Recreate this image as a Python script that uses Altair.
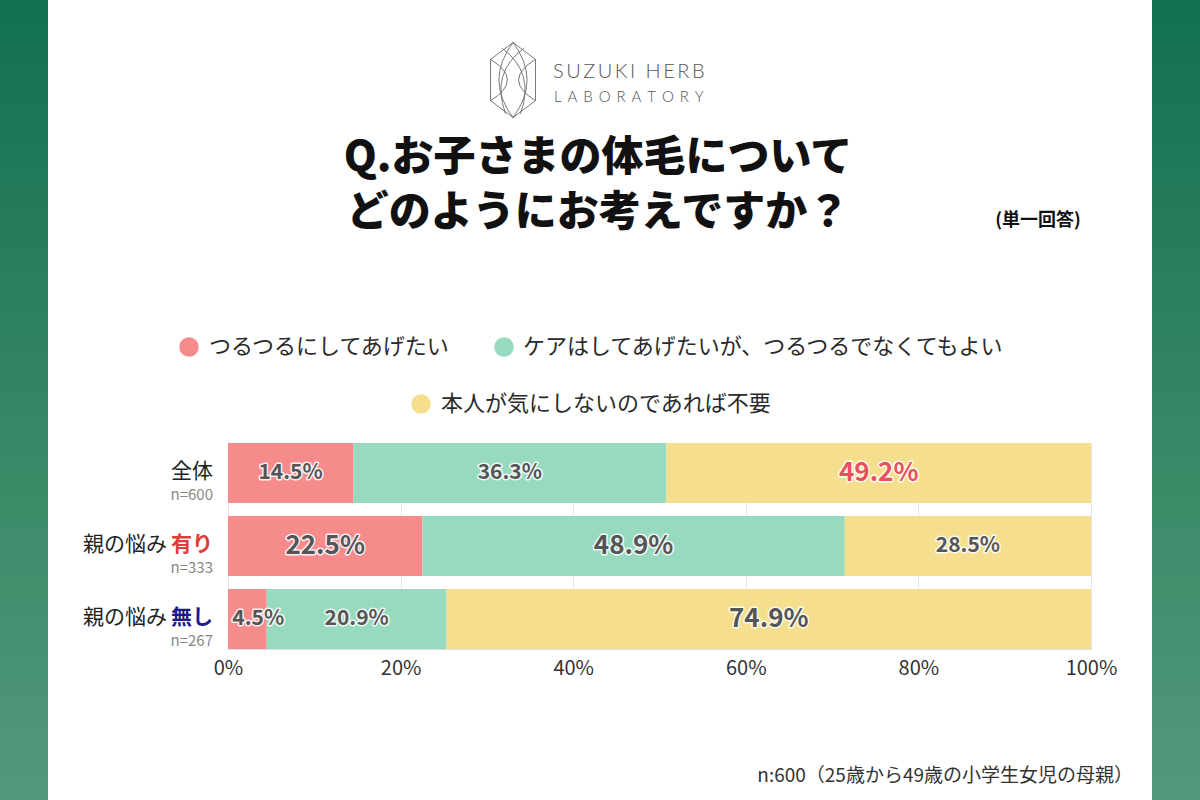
import altair as alt
import pandas as pd

# ---------------- data ----------------
CATS = ["つるつるにしてあげたい", "ケアはしてあげたいが、つるつるでなくてもよい", "本人が気にしないのであれば不要"]
GROUPS = ["全体", "親の悩み 有り", "親の悩み 無し"]
PREFIX = ["全体", "親の悩み", "親の悩み"]
SUFFIX = ["", "有り", "無し"]
NLABEL = ["n=600", "n=333", "n=267"]
V_SMOOTH = [14.5, 22.5, 4.5]
V_CARE = [36.3, 48.9, 20.9]
V_NONE = [49.2, 28.5, 74.9]
TICKS = [0, 0.2, 0.4, 0.6, 0.8, 1.0]
TITLE_LINES = ["Q.お子さまの体毛について", "どのようにお考えですか？"]
TITLE_NOTE = ["(単一回答)"]
FOOTNOTE = ["n:600（25歳から49歳の小学生女児の母親）"]
LOGO_LINES = ["SUZUKI HERB", "LABORATORY"]

COLORS = ["#F68B8C", "#98DABF", "#F5DF8E"]
FONT = "Noto Sans CJK JP"

rows = []
for gi, g in enumerate(GROUPS):
    for ci, vals in enumerate([V_SMOOTH, V_CARE, V_NONE]):
        rows.append({"group": g, "cat": CATS[ci], "order": ci, "value": vals[gi]})
df = pd.DataFrame(rows)
labels_df = pd.DataFrame({"group": GROUPS, "prefix": PREFIX, "suffix": SUFFIX, "n": NLABEL})

# pixel offsets of plot area inside 1200x800 canvas
PL, PT, PW, PH = 228, 443, 863, 206

ysc = alt.Scale(domain=GROUPS, paddingInner=0.18, paddingOuter=0)
xsc = alt.Scale(domain=[0, 1])


def Y():
    return alt.Y("group:N", sort=GROUPS, scale=ysc, axis=None)


bars = alt.Chart(df).mark_bar().encode(
    y=Y(),
    x=alt.X("value:Q", stack="normalize", scale=xsc,
            axis=alt.Axis(format=".0%", values=TICKS, grid=True, gridColor="#e6e6e6",
                          domain=False, ticks=False, labelFontSize=20, labelColor="#333333",
                          labelPadding=9, labelFlush=False, title=None, labelFont=FONT)),
    color=alt.Color("cat:N", sort=CATS, scale=alt.Scale(domain=CATS, range=COLORS), legend=None),
    order=alt.Order("order:Q"),
)

lab_base = alt.Chart(df).transform_calculate(
    base="datum.group == '全体' ? datum.value : 0"
).transform_joinaggregate(
    ref="max(base)", groupby=["cat"]
).transform_joinaggregate(
    total="sum(value)", maxv="max(value)", groupby=["group"]
).transform_window(
    cum="sum(value)", sort=[alt.SortField("order")], groupby=["group"], frame=[None, 0]
).transform_calculate(
    mid="max((datum.cum - datum.value/2)/datum.total, 0.035)",
    lab="format(datum.value, '.1f') + '%'",
    big="datum.group == '全体' ? datum.value == datum.maxv : datum.value > datum.ref"
)
size_enc = alt.condition("datum.big", alt.value(26), alt.value(21))
halo = lab_base.mark_text(font=FONT, fontWeight="bold", stroke="white", strokeWidth=3,
                          strokeJoin="round", strokeOpacity=0.85, fill="white").encode(
    y=Y(), x=alt.X("mid:Q", scale=xsc, title=None), text="lab:N", size=size_enc)
labels = lab_base.mark_text(font=FONT, fontWeight="bold").encode(
    y=Y(), x=alt.X("mid:Q", scale=xsc, title=None), text="lab:N", size=size_enc,
    color=alt.condition("datum.value == datum.maxv && datum.group == '全体'",
                        alt.value("#E8515B"), alt.value("#555555")))

# y labels
ylab_base = alt.Chart(labels_df)
ylab_a = ylab_base.transform_filter("datum.suffix == ''").mark_text(
    font=FONT, fontSize=21, align="right", baseline="middle", color="#222222", dy=-1).encode(
    y=Y(), x=alt.value(-15), text="prefix:N")
ylab_b = ylab_base.transform_filter("datum.suffix != ''").mark_text(
    font=FONT, fontSize=21, align="right", baseline="middle", color="#222222", dy=-1).encode(
    y=Y(), x=alt.value(-61), text="prefix:N")
ylab_c = ylab_base.transform_filter("datum.suffix != ''").mark_text(
    font=FONT, fontSize=21, fontWeight="bold", align="right", baseline="middle", dy=-1).encode(
    y=Y(), x=alt.value(-15), text="suffix:N",
    color=alt.condition("datum.suffix == '有り'", alt.value("#E23B3B"), alt.value("#1F1A8A")))
ylab_n = ylab_base.mark_text(font=FONT, fontSize=15, align="right", baseline="middle",
                             color="#888888", dy=22).encode(
    y=Y(), x=alt.value(-15), text="n:N")


def txt(s, x, y, **kw):
    kw.setdefault("font", FONT)
    return alt.Chart(pd.DataFrame({"t": [s]})).mark_text(baseline="middle", **kw).encode(
        x=alt.value(x - PL), y=alt.value(y - PT), text="t:N")


def spaced(s, sep):
    return sep.join(list(s))


grad = alt.Gradient(gradient="linear",
                    stops=[alt.GradientStop(color="#127050", offset=0),
                           alt.GradientStop(color="#3A8A68", offset=0.6),
                           alt.GradientStop(color="#52997B", offset=1)],
                    x1=0, x2=0, y1=0, y2=1)
one = pd.DataFrame({"a": [1]})
side_l = alt.Chart(one).mark_rect(color=grad).encode(
    x=alt.value(0 - PL), x2=alt.value(48 - PL), y=alt.value(0 - PT), y2=alt.value(800 - PT))
side_r = alt.Chart(one).mark_rect(color=grad).encode(
    x=alt.value(1152 - PL), x2=alt.value(1200 - PL), y=alt.value(0 - PT), y2=alt.value(800 - PT))

emblem_path = ("M0,-1 L0.6,-0.55 L0.6,0.55 L0,1 L-0.6,0.55 L-0.6,-0.55 Z "
               "M-0.6,-0.55 Q0.3,0 -0.6,0.55 M0.6,-0.55 Q-0.3,0 0.6,0.55 "
               "M0,-1 Q-0.75,0 0,1 M0,-1 Q0.75,0 0,1 "
               "M-0.3,-0.85 Q0.6,-0.2 0.2,0.9 M0.3,-0.85 Q-0.6,-0.2 -0.2,0.9")
emblem = alt.Chart(one).mark_point(shape=emblem_path, filled=False, stroke="#6a6a6a",
                                   strokeWidth=0.9, size=5625, opacity=1).encode(
    x=alt.value(513 - PL), y=alt.value(80 - PT))

legend_dots = []
for (cx, cy, tx), c, name in zip([(189, 347, 209), (504, 347, 523), (421, 404, 441)], COLORS, CATS):
    legend_dots.append(alt.Chart(one).mark_point(shape="circle", filled=True, color=c, size=380,
                                                 opacity=1).encode(
        x=alt.value(cx - PL), y=alt.value(cy - PT)))
    legend_dots.append(txt(name, tx, cy, fontSize=22, align="left", color="#2a2a2a"))

layers = [side_l, side_r, emblem,
          txt(spaced(LOGO_LINES[0], "\u2009"), 553, 72, font="Lato", fontWeight=300, fontSize=20,
              align="left", color="#555555"),
          txt(spaced(LOGO_LINES[1], "\u2004\u200a"), 554, 97, font="Lato", fontWeight=300, fontSize=15,
              align="left", color="#555555"),
          txt(TITLE_LINES[0], 598, 158, fontSize=42, fontWeight=900, align="center", color="#111111"),
          txt(TITLE_LINES[1], 598, 213, fontSize=42, fontWeight=900, align="center", color="#111111"),
          txt(TITLE_NOTE[0], 1038, 221, fontSize=18, fontWeight="bold", align="center", color="#111111"),
          txt(FOOTNOTE[0], 1133, 776, fontSize=19, align="right", color="#333333"),
          ] + legend_dots + [bars, halo, labels, ylab_a, ylab_b, ylab_c, ylab_n]

chart = alt.layer(*layers).properties(
    width=PW, height=PH,
    padding={"left": PL, "top": PT, "right": 1200 - PL - PW, "bottom": 800 - PT - PH},
    autosize=alt.AutoSizeParams(type="none"),
    background="white",
).configure_view(stroke=None).configure(font=FONT)

chart.save("out.html", embed_options={"renderer": "svg", "actions": False})
